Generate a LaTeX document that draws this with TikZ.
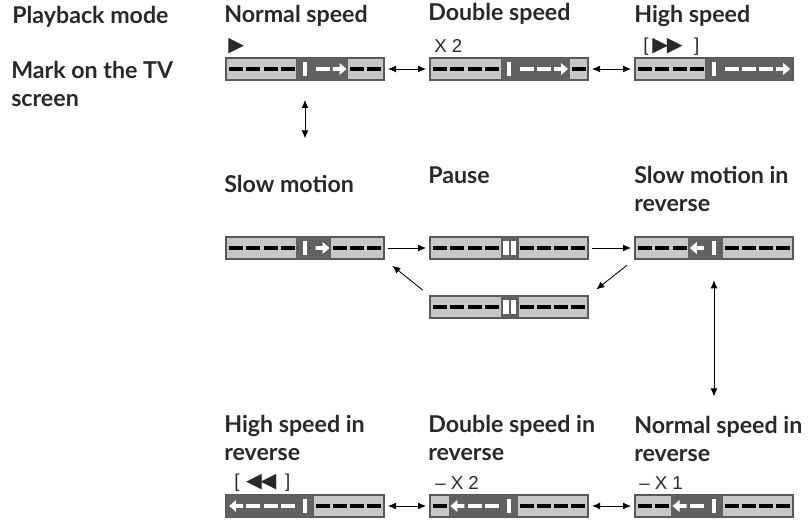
\documentclass[tikz,border=0pt]{standalone}
\usepackage{fontspec}
\setmainfont{Lato}
\newfontfamily\markfont{Liberation Sans}
\newfontfamily\symfont[Scale=1.1]{DejaVu Sans}
\usetikzlibrary{calc, positioning, arrows.meta}

\definecolor{barlight}{gray}{0.78}
\definecolor{bardark}{gray}{0.38}
\definecolor{barline}{gray}{0.35}
\definecolor{inktext}{gray}{0.16}

\tikzset{
    tapebar/.style={draw=barline, line width=0.8pt, fill=barlight, inner sep=0pt, outer sep=0pt,
        minimum width=118.5pt, minimum height=16.5pt},
    headtext/.style={font=\fontsize{17.4}{21.4}\selectfont\bfseries, text=inktext, align=left, inner sep=0pt, anchor=base west},
    marktext/.style={font=\fontsize{14}{16}\selectfont\markfont, text=inktext, inner sep=0pt, anchor=base west},
    both/.style={<->, >={Latex[length=6pt,width=5.2pt]}, line width=0.65pt},
    oneway/.style={->, >={Latex[length=6pt,width=5.2pt]}, line width=0.65pt}
}

% #1 bar, #2 #3 dark part, #4 black dashes, #5 white dashes, #6 arrow start, #7 arrow direction
\newcommand{\tapemarks}[7]{
    \fill[bardark] ([shift={(#2,-0.4)}]#1.south west) rectangle ([shift={(#3,0.4)}]#1.north west);
    \foreach \dx in {#4}
        \fill[black] ([shift={(\dx,-2)}]#1.west) rectangle ++(14,4);
    \foreach \dx in {#5}
        \fill[white] ([shift={(\dx,-2)}]#1.west) rectangle ++(14,4);
    \fill[white] ([shift={(77,-7)}]#1.west) rectangle ++(4.4,14);
    \fill[white, shift={(#1.west)}, xshift=#6*0.75pt, xscale=#7]
        (0,-1.8) -- (7,-1.8) -- (7,-6) -- (14,0) -- (7,6) -- (7,1.8) -- (0,1.8) -- cycle;
}
% #1 bar
\newcommand{\pausemarks}[1]{
    \fill[bardark] ([shift={(70.7,-0.4)}]#1.south west) rectangle ([shift={(88.7,0.4)}]#1.north west);
    \foreach \dx in {3.3,20.4,37.6,54.8,89.5,106.7,124,141.2}
        \fill[black] ([shift={(\dx,-2)}]#1.west) rectangle ++(14,4);
    \fill[white] ([shift={(73,-7)}]#1.west) rectangle ++(5.6,14);
    \fill[white] ([shift={(81,-7)}]#1.west) rectangle ++(5.4,14);
}

\begin{document}
\begin{tikzpicture}[x=0.75pt, y=0.75pt]
    \useasboundingbox (0,0) rectangle (809,523);

    \node[tapebar] (normalbar) at (305,454) {};
    \node[tapebar, right=34.5pt of normalbar] (doublebar) {};
    \node[tapebar, right=35.25pt of doublebar] (highbar) {};

    \node[tapebar, below=117.75pt of normalbar] (slowbar) {};
    \node[tapebar, below=117.75pt of doublebar] (pausebar) {};
    \node[tapebar, below=117.75pt of highbar] (slowrevbar) {};
    \node[tapebar, below=27.75pt of pausebar] (lowpausebar) {};

    \node[tapebar, below=132.75pt of lowpausebar] (doublerevbar) {};
    \node[tapebar, left=34.5pt of doublerevbar] (highrevbar) {};
    \node[tapebar, right=35.25pt of doublerevbar] (normalrevbar) {};

    \tapemarks{normalbar}{70.3}{122.3}{3.3,20.4,37.6,54.8,124,141.2}{89.5}{106.5}{1}
    \tapemarks{doublebar}{70.5}{139.7}{3.3,20.4,37.6,54.8,141.5}{89.5,106.7}{124}{1}
    \tapemarks{highbar}{69.7}{158}{3.3,20.4,37.6,54.8}{89.5,106.7,124}{141.2}{1}
    \tapemarks{slowbar}{70.3}{105}{3.3,20.4,37.6,54.8,106.7,124,141.2}{}{89.5}{1}
    \pausemarks{pausebar}
    \pausemarks{lowpausebar}
    \tapemarks{slowrevbar}{53}{87.5}{3.3,20.4,37.6,89.5,106.7,124,141.2}{}{68.8}{-1}
    \tapemarks{normalrevbar}{35.7}{87.5}{3.3,20.4,89.5,106.7,124,141.2}{54.8}{51.6}{-1}
    \tapemarks{doublerevbar}{18.7}{87.5}{3.3,89.5,106.7,124,141.2}{37.6,54.8}{34.4}{-1}
    \tapemarks{highrevbar}{0}{88.3}{89.5,106.7,124,141.2}{20.4,37.6,54.8}{17.2}{-1}

    % left column
    \node[headtext] (modelabel) at (12,499) {Playback mode};
    \node[headtext] (tvlabel) at (11,416) {Mark on the TV\\screen};

    \node[headtext] (normallabel) at (224,500) {Normal speed};
    \node[headtext] (doublelabel) at (428,502) {Double speed};
    \node[headtext] (highlabel) at (634,500) {High speed};
    \node[headtext] (slowlabel) at (224,330) {Slow motion};
    \node[headtext] (pauselabel) at (428,339) {Pause};
    \node[headtext] (slowrevlabel) at (634,311) {Slow motion in\\reverse};
    \node[headtext] (highrevlabel) at (224,62) {High speed in\\reverse};
    \node[headtext] (doublerevlabel) at (428,62) {Double speed in\\reverse};
    \node[headtext] (normalrevlabel) at (634,61) {Normal speed in\\reverse};

    \node[marktext] (normalmark) at (228,471) {\symfont ▶};
    \node[marktext] (doublemark) at (434,470) {X 2};
    \node[marktext] (highmark) at (643,471) {[\kern3pt{\symfont ▶\kern-1pt▶}\kern8.5pt]};
    \node[marktext] (highrevmark) at (234,35) {[\kern5pt{\symfont ◀\kern-1pt◀}\kern6.5pt]};
    \node[marktext] (minustwomark) at (435,33) {– X 2};
    \node[marktext] (minusonemark) at (639,33) {– X 1};

    % connectors
    \draw[both, shorten <=3pt, shorten >=3pt] (normalbar) -- (doublebar);
    \draw[both, shorten <=3pt, shorten >=3pt] (doublebar) -- (highbar);
    \draw[both, shorten <=15pt, shorten >=74pt] (normalbar.south) -- (slowbar.north);
    \draw[oneway, shorten <=3pt, shorten >=3pt] (slowbar) -- (pausebar);
    \draw[oneway, shorten <=3pt, shorten >=3pt] (pausebar) -- (slowrevbar);
    \draw[oneway, shorten <=7.5pt, shorten >=8pt] (slowrevbar.south west) -- (lowpausebar.north east);
    \draw[oneway, shorten <=7pt, shorten >=8pt] (lowpausebar.north west) -- (slowbar.south east);
    \draw[both, shorten <=16pt, shorten >=74pt] (slowrevbar.south) -- (normalrevbar.north);
    \draw[both, shorten <=3pt, shorten >=3pt] (normalrevbar) -- (doublerevbar);
    \draw[both, shorten <=3pt, shorten >=3pt] (doublerevbar) -- (highrevbar);
\end{tikzpicture}
\end{document}
